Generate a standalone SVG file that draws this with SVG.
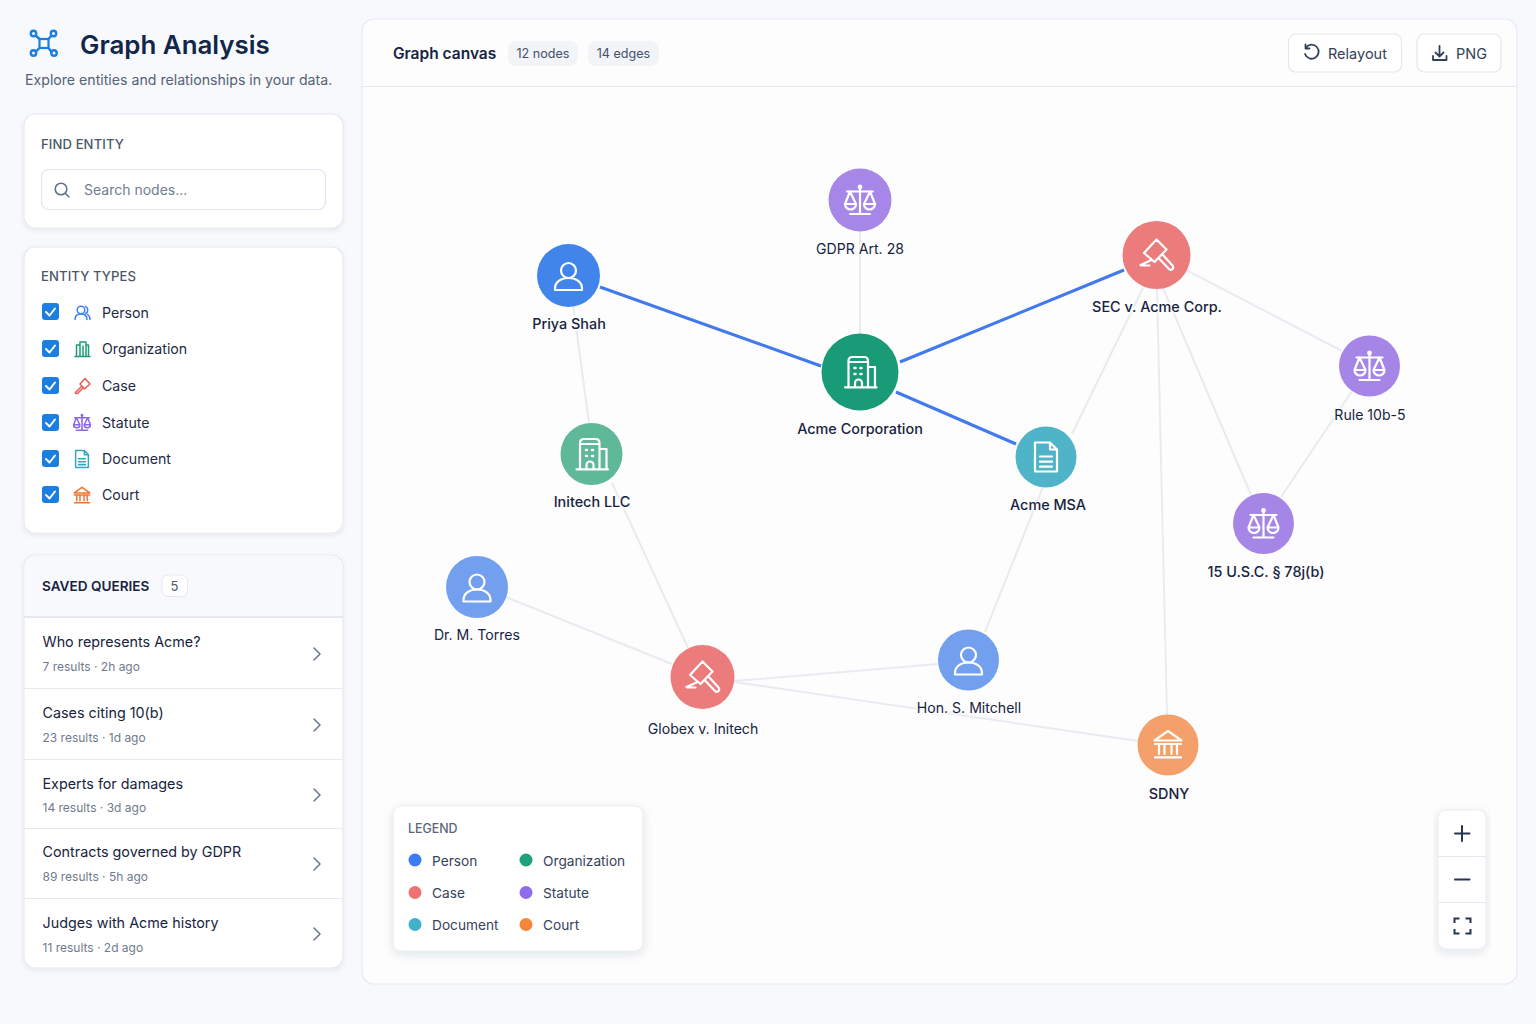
<svg xmlns="http://www.w3.org/2000/svg" xmlns:xlink="http://www.w3.org/1999/xlink" width="1536" height="1024" viewBox="0 0 1536 1024">
<style>
text{font-family:"Inter","Liberation Sans",sans-serif;}
.card{fill:#fff;stroke:#e6e9f0;stroke-width:1.2;}
.sec{font-size:13.100px;font-weight:500;fill:#4b5768;letter-spacing:.1px;}
.ty{font-size:14.200px;fill:#1e2b45;}
.q{font-size:14.350px;fill:#172440;}
.m{font-size:12px;fill:#6f7a8c;}
.lg{font-size:13.700px;fill:#36435b;}
.nl{font-size:14.100px;fill:#172440;text-anchor:middle;paint-order:stroke;stroke:#fdfdfe;stroke-width:3px;stroke-linejoin:round;}
.nb{font-weight:500;font-size:14.400px;}
.e{stroke:#e9ebf1;stroke-width:2;fill:none;}
.eb{stroke:#4279ec;stroke-width:3;fill:none;}
.i{fill:none;stroke:#fff;stroke-width:2.2;stroke-linecap:round;stroke-linejoin:round;}
.d{fill:none;stroke:#334158;stroke-width:1.8;stroke-linecap:round;stroke-linejoin:round;}
.chev{fill:none;stroke:#6a768a;stroke-width:1.5;stroke-linecap:round;stroke-linejoin:round;}
.box{fill:#1b7fe0;}
.tick{fill:none;stroke:#fff;stroke-width:2;stroke-linecap:round;stroke-linejoin:round;}
</style>
<defs>
<filter id="sh" x="-10%" y="-10%" width="120%" height="120%"><feDropShadow dx="0" dy="2" stdDeviation="2.5" flood-color="#1e2b45" flood-opacity=".07"/></filter>
<filter id="sh2" x="-10%" y="-10%" width="120%" height="120%"><feDropShadow dx="0" dy="3" stdDeviation="5" flood-color="#1e2b45" flood-opacity=".12"/></filter>
<g id="person"><circle cx="0" cy="-5" r="7.5"/><path d="M-13.5 14.5V13C-13.5 6-7 2.500 0 2.500S13.500 6 13.500 13V14.500Z"/></g>
<g id="scale"><path d="M0-12V14M-10 14H10M-13-8.500H13"/><circle cx="0" cy="-13" r="1.300"/><path d="M-10-8.500L-15 4A5.500 5.500 0 0 0-4 4ZM-15 4H-4M10-8.500L4 4A5.500 5.500 0 0 0 15 4ZM4 4H15"/></g>
<g id="gavel"><path d="M-12.500-2L0-15.500L10-5.500L-2 7ZM2.500 3.500L12.500 14A2 2 0 0 0 16 10.500L6-.5M-16 10L-6 5.500M-15.500 10.500H-7"/></g>
<g id="bld"><path d="M-15 15.300H16.500M-11.500 15.300V-11Q-11.500-15-7.500-15H4Q8-15 8-11V15.300M-11.500-10H8M8-5H15V15.300M-5 15.300V11A3.500 3.500 0 0 1 2 11V15.300"/><path d="M-5.500-4h1M.5-4h1M-5.500 2h1M.5 2h1" stroke-width="2.600"/></g>
<g id="doc"><path d="M-11-14.500H4L11-7.500V14.500H-11ZM4-14.500V-7.500H11M-6-.5H6M-6 4.700H6M-6 9.700H6"/></g>
<g id="court"><path d="M0-14L-13.500-4.500H13.500ZM-13-1H13M-9-1V9M-3.500-1V9M3.500-1V9M9-1V9M-13 12.300H13"/></g>
</defs>
<rect width="1536" height="1024" fill="#f8f9fc"/>

<g id="header">
<g fill="none" stroke="#1b7fe0" stroke-width="2.400">
<rect x="39.500" y="39" width="9" height="9" stroke-width="2.200"/>
<path d="M39.500 39L35 35M48.500 39L52 35M39.500 48L35 52.500M48.500 48L52 52.500"/>
<circle cx="33.500" cy="33.500" r="2.700"/><circle cx="53.500" cy="33.500" r="2.700"/><circle cx="33.500" cy="53" r="2.700"/><circle cx="54" cy="53" r="2.700"/>
</g>
<text x="80" y="54" font-size="25.900" font-weight="600" fill="#12264a">Graph Analysis</text>
<text x="25" y="85" font-size="14.150" fill="#566275">Explore entities and relationships in your data.</text>
</g>

<g id="find-entity">
<rect class="card" x="24" y="114" width="319" height="114" rx="11" filter="url(#sh)"/>
<text class="sec" x="41" y="148.500">FIND ENTITY</text>
<rect x="41.500" y="169.500" width="284" height="40" rx="7" fill="#fff" stroke="#e2e5ee" stroke-width="1.200"/>
<circle cx="61" cy="189" r="5.800" fill="none" stroke="#667285" stroke-width="1.600"/><path d="M65.500 193.500L69 197" stroke="#667285" stroke-width="1.600" stroke-linecap="round"/>
<text x="84" y="195" font-size="14" fill="#727d8f">Search nodes...</text>
</g>

<g id="entity-types">
<rect class="card" x="24" y="247" width="319" height="286" rx="11" filter="url(#sh)"/>
<text class="sec" x="41" y="281">ENTITY TYPES</text>
<g id="type-person"><rect class="box" x="42" y="303" width="17" height="17" rx="3"/><path class="tick" d="M46 312L49.500 315.500L55 308.500"/>
<g fill="none" stroke="#3b82f6" stroke-width="1.500" stroke-linecap="round" stroke-linejoin="round"><circle cx="81" cy="310" r="3.800"/><path d="M75 319.500C75 315.500 77.500 314 81 314S87 315.500 87 319.500M85.500 306.500A3.800 3.800 0 0 1 85.500 313.500M87.500 314.500C89 315.500 90 317 90 319.500"/></g>
<text class="ty" x="102" y="317.500">Person</text></g>
<g id="type-organization"><rect class="box" x="42" y="340" width="17" height="17" rx="3"/><path class="tick" d="M46 349L49.500 352.500L55 345.500"/>
<g fill="none" stroke="#1f9d78" stroke-width="1.500" stroke-linecap="round" stroke-linejoin="round"><path d="M75 356.500H90M76.500 356.500V345H80V342H86V345H88.500V356.500M80 345V356.500M86 345V356.500M83 346V356.500"/></g>
<text class="ty" x="102" y="354">Organization</text></g>
<g id="type-case"><rect class="box" x="42" y="377" width="17" height="17" rx="3"/><path class="tick" d="M46 386L49.500 389.500L55 382.500"/>
<g fill="none" stroke="#ea5a5a" stroke-width="1.500" stroke-linecap="round" stroke-linejoin="round"><path d="M80 384L85 378.500L90 384L84.500 389ZM81.500 386.500L75.500 392.500Q75 393.500 76 393.500L77.500 393.500L83 388"/></g>
<text class="ty" x="102" y="391">Case</text></g>
<g id="type-statute"><rect class="box" x="42" y="414" width="17" height="17" rx="3"/><path class="tick" d="M46 423L49.500 426.500L55 419.500"/>
<g transform="translate(82 422.500) scale(.56)" fill="none" stroke="#8b68e8" stroke-width="2.800" stroke-linecap="round" stroke-linejoin="round"><use href="#scale"/></g>
<text class="ty" x="102" y="427.500">Statute</text></g>
<g id="type-document"><rect class="box" x="42" y="450" width="17" height="17" rx="3"/><path class="tick" d="M46 459L49.500 462.500L55 455.500"/>
<g transform="translate(82 459) scale(.58)" fill="none" stroke="#35a7c2" stroke-width="2.600" stroke-linecap="round" stroke-linejoin="round"><use href="#doc"/></g>
<text class="ty" x="102" y="464">Document</text></g>
<g id="type-court"><rect class="box" x="42" y="486" width="17" height="17" rx="3"/><path class="tick" d="M46 495L49.500 498.500L55 491.500"/>
<g transform="translate(82 495.500) scale(.58)" fill="none" stroke="#f0762e" stroke-width="2.600" stroke-linecap="round" stroke-linejoin="round"><use href="#court"/></g>
<text class="ty" x="102" y="500">Court</text></g>
</g>

<g id="saved-queries">
<rect class="card" x="24" y="555" width="319" height="413" rx="11" filter="url(#sh)"/>
<path d="M24.600 617V566A10.500 10.500 0 0 1 35 555.600H332A10.500 10.500 0 0 1 342.400 566V617Z" fill="#f8f9fc"/>
<path d="M24 617H343" stroke="#e6e9f0" stroke-width="2"/>
<text x="42" y="590.500" font-size="13.600" font-weight="600" fill="#172440">SAVED QUERIES</text>
<rect x="162" y="575" width="25.500" height="21.500" rx="6" fill="#fff" stroke="#e4e7ee"/>
<text x="174.500" y="590.500" font-size="13" fill="#4b5768" text-anchor="middle">5</text>
<path d="M24 688.500H343M24 759.500H343M24 828.500H343M24 898.500H343" stroke="#e8eaf0" stroke-width="1.200"/>
<g id="q1"><text class="q" x="42.500" y="647">Who represents Acme?</text><text class="m" x="42.500" y="670.500">7 results · 2h ago</text><path class="chev" d="M314 648L320 654L314 660"/></g>
<g id="q2"><text class="q" x="42.500" y="718">Cases citing 10(b)</text><text class="m" x="42.500" y="741.500">23 results · 1d ago</text><path class="chev" d="M314 719L320 725L314 731"/></g>
<g id="q3"><text class="q" x="42.500" y="788.500">Experts for damages</text><text class="m" x="42.500" y="812">14 results · 3d ago</text><path class="chev" d="M314 789L320 795L314 801"/></g>
<g id="q4"><text class="q" x="42.500" y="857">Contracts governed by GDPR</text><text class="m" x="42.500" y="881">89 results · 5h ago</text><path class="chev" d="M314 858L320 864L314 870"/></g>
<g id="q5"><text class="q" x="42.500" y="928">Judges with Acme history</text><text class="m" x="42.500" y="951.500">11 results · 2d ago</text><path class="chev" d="M314 928L320 934L314 940"/></g>
</g>

<g id="canvas-panel">
<rect x="362" y="19" width="1155" height="965" rx="12" fill="#fdfdfe" stroke="#e6e9f0" stroke-width="1.200"/>
<path d="M362 86.500H1517" stroke="#e6e9f0" stroke-width="1.200"/>
<text x="393" y="58.500" font-size="15.500" font-weight="600" fill="#172440">Graph canvas</text>
<rect x="508" y="41" width="70" height="25" rx="8" fill="#f2f4f8"/><text x="543" y="58" font-size="12.600" fill="#44516a" text-anchor="middle">12 nodes</text>
<rect x="588" y="41" width="71" height="25" rx="8" fill="#f2f4f8"/><text x="623.500" y="58" font-size="12.600" fill="#44516a" text-anchor="middle">14 edges</text>
<g id="btn-relayout"><rect x="1288.500" y="34" width="113" height="38" rx="7" fill="#fff" stroke="#e4e7ee" stroke-width="1.200"/>
<path class="d" d="M1306 47.500A7 7 0 1 1 1305 54M1305.500 44.500V48.500H1309.500"/>
<text x="1328" y="59" font-size="14.500" fill="#334158">Relayout</text></g>
<g id="btn-png"><rect x="1417" y="34" width="84" height="38" rx="7" fill="#fff" stroke="#e4e7ee" stroke-width="1.200"/>
<path class="d" d="M1439.500 46V56M1435.500 52.500L1439.500 56.500L1443.500 52.500M1433 56V60H1446.500V56"/>
<text x="1456" y="59" font-size="14.500" fill="#334158">PNG</text></g>
</g>

<g id="connectors">
<path class="e" d="M860 231V334"/>
<path class="e" d="M573 305L589 423"/>
<path class="e" d="M612 483L688 648"/>
<path class="e" d="M506 597L672 664"/>
<path class="e" d="M734 681L938 664"/>
<path class="e" d="M734 682L1138 741"/>
<path class="e" d="M1043 487L985 632"/>
<path class="e" d="M1072 434L1143 288"/>
<path class="e" d="M1157 289L1167 715"/>
<path class="e" d="M1163 288L1251 495"/>
<path class="e" d="M1186 270L1342 351"/>
<path class="e" d="M1352 391L1281 497"/>
<path class="eb" d="M600 287L821 366"/>
<path class="eb" d="M900 362L1124 270"/>
<path class="eb" d="M896 392L1016 444"/>
</g>

<g id="node-gdpr"><circle cx="860" cy="200" r="31.500" fill="#a686e6"/><use class="i" href="#scale" x="860" y="200"/><text class="nl" x="860" y="254">GDPR Art. 28</text></g>
<g id="node-priya"><circle cx="568.500" cy="275.500" r="31.500" fill="#4285ea"/><use class="i" href="#person" x="568.500" y="275.500"/><text class="nl nb" x="569" y="329">Priya Shah</text></g>
<g id="node-acme"><circle cx="860" cy="372" r="38.500" fill="#1a9b78"/><use class="i" href="#bld" x="860" y="372"/><text class="nl nb" x="860" y="434">Acme Corporation</text></g>
<g id="node-sec"><circle cx="1156.500" cy="255" r="34" fill="#ec7b7b"/><use class="i" href="#gavel" x="1156.500" y="255"/><text class="nl nb" x="1157" y="312">SEC v. Acme Corp.</text></g>
<g id="node-rule"><circle cx="1369.500" cy="366" r="30.500" fill="#a586e6"/><use class="i" href="#scale" x="1369.500" y="366"/><text class="nl" x="1370" y="420">Rule 10b-5</text></g>
<g id="node-initech"><circle cx="591.500" cy="454" r="31" fill="#5fb898"/><use class="i" href="#bld" x="591.500" y="454"/><text class="nl nb" x="592" y="507">Initech LLC</text></g>
<g id="node-msa"><circle cx="1046" cy="457" r="30.500" fill="#4fb4c7"/><use class="i" href="#doc" x="1046" y="457"/><text class="nl nb" x="1048" y="510">Acme MSA</text></g>
<g id="node-usc"><circle cx="1263.500" cy="523.500" r="30.500" fill="#a586e6"/><use class="i" href="#scale" x="1263.500" y="523.500"/><text class="nl nb" x="1266" y="577">15 U.S.C. § 78j(b)</text></g>
<g id="node-torres"><circle cx="477" cy="587" r="31" fill="#72a0ee"/><use class="i" href="#person" x="477" y="587"/><text class="nl" x="477" y="640">Dr. M. Torres</text></g>
<g id="node-globex"><circle cx="702.500" cy="677" r="32" fill="#ec7b7b"/><use class="i" href="#gavel" x="702.500" y="677"/><text class="nl" x="703" y="734">Globex v. Initech</text></g>
<g id="node-mitchell"><circle cx="968.500" cy="660" r="30.500" fill="#72a0ee"/><use class="i" href="#person" x="968.500" y="660"/><text class="nl" x="969" y="713">Hon. S. Mitchell</text></g>
<g id="node-sdny"><circle cx="1168" cy="745" r="30.500" fill="#f4a06a"/><use class="i" href="#court" x="1168" y="745"/><text class="nl nb" x="1169" y="799">SDNY</text></g>

<g id="legend">
<rect x="393" y="806" width="250" height="145" rx="8" fill="#fff" stroke="#e9ebf1" filter="url(#sh2)"/>
<text x="408" y="833" font-size="12.400" font-weight="500" fill="#5a6679">LEGEND</text>
<circle cx="415" cy="860" r="6.500" fill="#3b7cf0"/><text class="lg" x="432" y="865.500">Person</text>
<circle cx="526" cy="860" r="6.500" fill="#1fa27c"/><text class="lg" x="543" y="865.500">Organization</text>
<circle cx="415" cy="892.500" r="6.500" fill="#ee7272"/><text class="lg" x="432" y="897.500">Case</text>
<circle cx="526" cy="892.500" r="6.500" fill="#8f6ce8"/><text class="lg" x="543" y="897.500">Statute</text>
<circle cx="415" cy="924.500" r="6.500" fill="#3fb1c8"/><text class="lg" x="432" y="930">Document</text>
<circle cx="526" cy="924.500" r="6.500" fill="#f5853a"/><text class="lg" x="543" y="930">Court</text>
</g>

<g id="zoom-controls">
<rect x="1438" y="810" width="48" height="139" rx="8" fill="#fff" stroke="#e9ebf1" filter="url(#sh2)"/>
<path d="M1438 856.500H1486M1438 902.500H1486" stroke="#e6e9f0" stroke-width="1.200"/>
<path d="M1462 826V841M1455 833.500H1469.500M1455 879.500H1469.500" fill="none" stroke="#263650" stroke-width="2" stroke-linecap="round"/>
<path d="M1454.500 923V918.500H1459.500M1465.500 918.500H1470.500V923M1470.500 929V933.500H1465.500M1459.500 933.500H1454.500V929" fill="none" stroke="#263650" stroke-width="2"/>
</g>
</svg>
